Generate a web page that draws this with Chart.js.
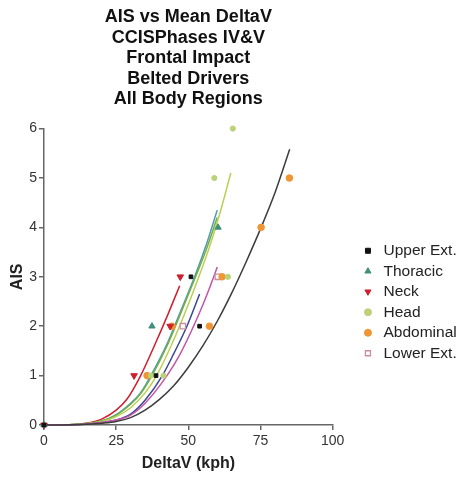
<!DOCTYPE html>
<html>
<head>
<meta charset="utf-8">
<script src="https://cdn.jsdelivr.net/npm/chart.js@4"></script>
<style>
  html, body { margin: 0; padding: 0; background: #fff; }
  #wrap { width: 458px; height: 477px; }
</style>
</head>
<body>
<div id="wrap"><canvas id="chart"></canvas></div>
<script>
// ---------------------------------------------------------------------------
//  Data (DeltaV in kph, AIS level)
// ---------------------------------------------------------------------------
const TITLE_LINES = ["AIS vs Mean DeltaV", "CCISPhases IV&V", "Frontal Impact",
    "Belted Drivers", "All Body Regions"];

const X_TICKS = [0, 25, 50, 75, 100];
const Y_TICKS = [0, 1, 2, 3, 4, 5, 6];

// observed points per body region
const upperX = [0, 38.8, 50.9, 53.9];
const upperY = [0, 1, 3, 2];
const thoracicX = [0, 37.4, 60.3];
const thoracicY = [0, 2, 4];
const neckX = [0, 31.2, 43.7, 47.2];
const neckY = [0, 1, 2, 3];
const headX = [37, 41.4, 63.7, 59, 65.4];
const headY = [1, 1, 3, 5, 6];
const abdoX = [35.7, 44.3, 57.3, 61.7, 75.2, 85];
const abdoY = [1, 2, 2, 3, 4, 5];
const lowerX = [48.1, 60.2];
const lowerY = [2, 3];

// fitted curves
const fitNeckX = [0, 10, 15, 20, 25, 28.7, 33.3, 39.1, 43, 47];
const fitNeckY = [0, 0.01, 0.04, 0.12, 0.3, 0.52, 0.98, 1.72, 2.25, 2.82];
const fitThorX = [0, 10, 15, 20, 25, 30, 33.3, 37, 42.6, 46.6, 52.5, 56.5, 60];
const fitThorY = [0, 0.01, 0.03, 0.08, 0.21, 0.44, 0.64, 1.0, 1.64, 2.2, 3.05, 3.7, 4.35];
const fitGreenX = [0, 10, 15, 20, 25, 30, 33.3, 37.4, 42.6, 46.6, 52.5, 56.5, 60];
const fitGreenY = [0, 0.01, 0.03, 0.08, 0.2, 0.42, 0.62, 1.0, 1.6, 2.15, 3.0, 3.6, 4.2];
const fitHeadX = [0, 10, 15, 20, 25, 30, 35, 39, 44, 48, 53, 57, 61, 64.7];
const fitHeadY = [0, 0.01, 0.03, 0.07, 0.17, 0.35, 0.65, 1.0, 1.6, 2.15, 2.9, 3.55, 4.3, 5.1];
const fitUpperX = [0, 10, 15, 20, 25, 30, 35, 41, 45, 49.5, 53.9];
const fitUpperY = [0, 0.005, 0.02, 0.05, 0.1, 0.22, 0.5, 1.0, 1.45, 2.0, 2.65];
const fitLowerX = [0, 10, 15, 20, 25, 30, 35, 42.6, 47, 51.8, 55.5, 58.8, 60];
const fitLowerY = [0, 0.005, 0.02, 0.05, 0.1, 0.2, 0.44, 1.0, 1.42, 2.0, 2.5, 3.0, 3.2];
const fitAbdoX = [0, 10, 15, 20, 25, 30, 35, 40, 45, 50, 55, 60, 65, 70, 75.2, 80, 85.1];
const fitAbdoY = [0, 0.005, 0.015, 0.035, 0.07, 0.15, 0.3, 0.52, 0.8, 1.17, 1.6, 2.1, 2.67, 3.3, 4.0, 4.7, 5.58];

// ---------------------------------------------------------------------------
//  Helpers
// ---------------------------------------------------------------------------
function pts(xs, ys) {
    return xs.map((x, i) => ({ x: x, y: ys[i] }));
}

function scatterSet(label, xs, ys, style) {
    return Object.assign({
        type: "scatter",
        label: label,
        data: pts(xs, ys),
        borderWidth: 1,
        clip: false,
        order: 0
    }, style);
}

function fitSet(xs, ys, color) {
    return {
        type: "line",
        label: "",
        data: pts(xs, ys),
        borderColor: color,
        borderWidth: 1.5,
        pointRadius: 0,
        pointHoverRadius: 0,
        fill: false,
        cubicInterpolationMode: "monotone",
        clip: false,
        order: 1
    };
}

const datasets = [
    scatterSet("Upper Ext.", upperX, upperY, {
        pointStyle: "rect", pointRadius: 2.6, backgroundColor: "#111", borderColor: "#111"
    }),
    scatterSet("Thoracic", thoracicX, thoracicY, {
        pointStyle: "triangle", pointRadius: 3.6, backgroundColor: "#3f8f7a", borderColor: "#3f8f7a"
    }),
    scatterSet("Neck", neckX, neckY, {
        pointStyle: "triangle", pointRotation: 180, pointRadius: 3.8,
        backgroundColor: "#cf1f2e", borderColor: "#cf1f2e"
    }),
    scatterSet("Head", headX, headY, {
        pointStyle: "circle", pointRadius: 2.6, backgroundColor: "#bcd27a", borderColor: "#bcd27a"
    }),
    scatterSet("Abdominal", abdoX, abdoY, {
        pointStyle: "circle", pointRadius: 3.3, backgroundColor: "#ef9533", borderColor: "#ef9533"
    }),
    scatterSet("Lower Ext.", lowerX, lowerY, {
        pointStyle: "rect", pointRadius: 3.8, backgroundColor: "#ffffff", borderColor: "#c98da3",
        borderWidth: 1.3
    }),
    fitSet(fitAbdoX, fitAbdoY, "#3c3c3c"),
    fitSet(fitLowerX, fitLowerY, "#c454a4"),
    fitSet(fitUpperX, fitUpperY, "#3a4595"),
    fitSet(fitHeadX, fitHeadY, "#b9cf52"),
    fitSet(fitGreenX, fitGreenY, "#74ad45"),
    fitSet(fitThorX, fitThorY, "#4b9cb2"),
    fitSet(fitNeckX, fitNeckY, "#d21e2c")
];

const FONT = "'Liberation Sans', Arial, sans-serif";

new Chart(document.getElementById("chart"), {
    data: { datasets: datasets },
    options: {
        responsive: true,
        maintainAspectRatio: false,
        animation: false,
        layout: { padding: { top: 0, right: -8.7, bottom: 0, left: 0 } },
        plugins: {
            title: {
                display: true,
                text: TITLE_LINES,
                fullSize: false,
                color: "#111",
                font: { family: FONT, size: 18, weight: "bold", lineHeight: 1.14 },
                padding: { top: 7, bottom: 19 }
            },
            legend: {
                position: "right",
                fullSize: false,
                align: "center",
                maxWidth: 200,
                title: { display: true, text: "", padding: { top: 18, bottom: 18 } },
                labels: {
                    usePointStyle: true,
                    boxWidth: 16,
                    boxHeight: 5,
                    padding: 5,
                    color: "#222",
                    font: { family: FONT, size: 15.5 },
                    filter: item => item.datasetIndex < 6
                }
            },
            tooltip: { enabled: false }
        },
        scales: {
            x: {
                type: "linear",
                min: 0,
                max: 100,
                afterBuildTicks: s => { s.ticks = X_TICKS.map(v => ({ value: v })); },
                afterFit: s => { s.height = 52; },
                grid: { drawOnChartArea: false, tickLength: 5, color: "#666", lineWidth: 1.5 },
                border: { color: "#666", width: 1.5 },
                ticks: { color: "#333", padding: 3, font: { family: FONT, size: 14 } },
                title: {
                    display: true, text: "DeltaV (kph)", color: "#222",
                    font: { family: FONT, size: 16, weight: "bold" },
                    padding: { top: 2, bottom: 4 }
                }
            },
            y: {
                type: "linear",
                min: 0,
                max: 6,
                afterBuildTicks: s => { s.ticks = Y_TICKS.map(v => ({ value: v })); },
                afterFit: s => { s.width = 44; },
                grid: { drawOnChartArea: false, tickLength: 5, color: "#666", lineWidth: 1.5 },
                border: { color: "#666", width: 1.5 },
                ticks: { color: "#333", padding: 2, font: { family: FONT, size: 14 } },
                title: {
                    display: true, text: "AIS", color: "#222",
                    font: { family: FONT, size: 16, weight: "bold" },
                    padding: { top: 8, bottom: 0 }
                }
            },
            gap: {
                type: "linear",
                position: "right",
                display: true,
                afterFit: s => { s.width = 22.5; },
                grid: { display: false },
                border: { display: false },
                ticks: { display: false }
            }
        }
    }
});
</script>
</body>
</html>
